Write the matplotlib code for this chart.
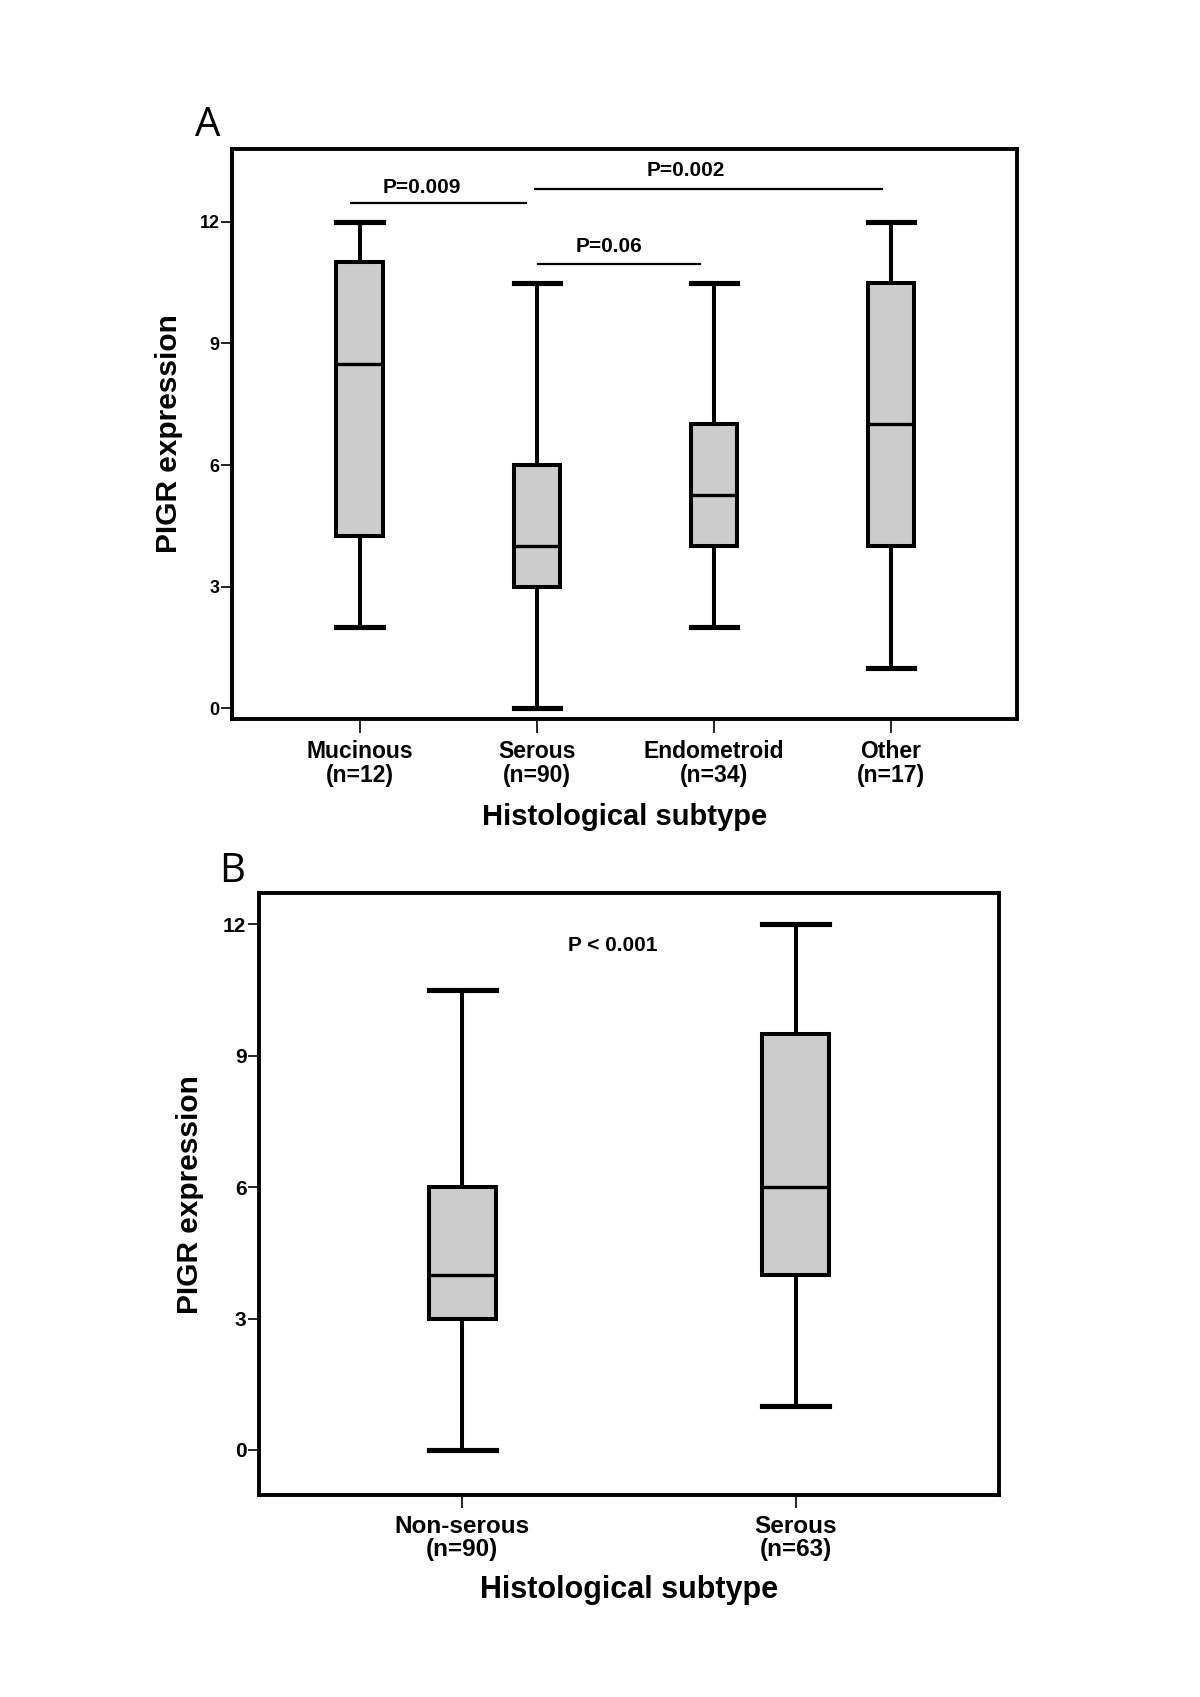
import matplotlib
matplotlib.use("Agg")
import matplotlib.pyplot as plt

# Panel A - four histological subtypes
a_groups = ["Mucinous", "Serous", "Endometroid", "Other"]
a_n = [12, 90, 34, 17]
a_low = [2, 0, 2, 1]
a_q1 = [4.25, 3, 4, 4]
a_med = [8.5, 4, 5.25, 7]
a_q3 = [11, 6, 7, 10.5]
a_high = [12, 10.5, 10.5, 12]

# significance brackets in panel A
sig_labels = ["P=0.009", "P=0.002", "P=0.06"]
sig_x0 = [-0.05, 0.99, 1.01]
sig_x1 = [0.94, 2.95, 1.92]
sig_y = [12.47, 12.81, 10.96]
sig_text_x = [0.35, 1.84, 1.41]
sig_text_y = [12.86, 13.26, 11.39]

# Panel B - serous vs non-serous
b_groups = ["Non-serous", "Serous"]
b_n = [90, 63]
b_low = [0, 1]
b_q1 = [3, 4]
b_med = [4, 6]
b_q3 = [6, 9.5]
b_high = [10.5, 12]
b_pvalue = "P < 0.001"

y_ticks = [0, 3, 6, 9, 12]

FONT = ["Liberation Sans", "DejaVu Sans"]
NARROW = ["Liberation Sans Narrow", "Liberation Sans", "DejaVu Sans"]
plt.rcParams["font.family"] = FONT


def make_stats(groups, low, q1, med, q3, high):
    stats = []
    for i, g in enumerate(groups):
        stats.append({"label": g, "whislo": low[i], "q1": q1[i], "med": med[i],
                      "q3": q3[i], "whishi": high[i]})
    return stats


def draw_boxes(ax, stats, width, lw):
    pos = list(range(len(stats)))
    ax.bxp(stats, positions=pos, widths=width, capwidths=width, showfliers=False,
           patch_artist=True,
           boxprops=dict(facecolor="#cccccc", edgecolor="black", linewidth=lw),
           whiskerprops=dict(color="black", linewidth=lw),
           capprops=dict(color="black", linewidth=lw + 0.8),
           medianprops=dict(color="black", linewidth=lw - 0.5))
    for s in ax.spines.values():
        s.set_linewidth(2.8)
    return pos


fig = plt.figure(figsize=(12, 16.97), dpi=100)

# ---- panel A ----
axA = fig.add_axes([0.1933, 0.5763, 0.654, 0.3359])
pos = draw_boxes(axA, make_stats(a_groups, a_low, a_q1, a_med, a_q3, a_high), 0.26, 2.9)
axA.set_xlim(-0.72, 3.71)
axA.set_ylim(-0.27, 13.8)
axA.set_yticks(y_ticks)
axA.set_yticklabels([str(t) for t in y_ticks], fontsize=13, fontweight="bold")
axA.set_xticks(pos)
axA.set_xticklabels([f"{g}\n(n={n})" for g, n in zip(a_groups, a_n)],
                    fontsize=16.5, fontweight="bold", linespacing=1.05)
axA.tick_params(axis="x", length=10, width=1.2, pad=5)
axA.tick_params(axis="y", length=8, width=1.2, pad=1)
axA.set_xlabel("Histological subtype", fontsize=21, fontweight="bold", labelpad=12)
axA.set_ylabel("PIGR expression", fontsize=21.5, fontweight="bold", labelpad=12)

for i in range(len(sig_labels)):
    axA.plot([sig_x0[i], sig_x1[i]], [sig_y[i], sig_y[i]], color="black", linewidth=1.6)
    axA.text(sig_text_x[i], sig_text_y[i], sig_labels[i], ha="center", va="center",
             fontsize=15, fontweight="bold")

# ---- panel B ----
axB = fig.add_axes([0.2158, 0.1190, 0.6167, 0.3547])
pos = draw_boxes(axB, make_stats(b_groups, b_low, b_q1, b_med, b_q3, b_high), 0.2, 2.9)
axB.set_xlim(-0.61, 1.61)
axB.set_ylim(-1.03, 12.71)
axB.set_yticks(y_ticks)
axB.set_yticklabels([str(t) for t in y_ticks], fontsize=15, fontweight="bold", family=NARROW)
axB.set_xticks(pos)
axB.set_xticklabels([f"{g}\n(n={n})" for g, n in zip(b_groups, b_n)],
                    fontsize=17.5, fontweight="bold", linespacing=1.05)
axB.tick_params(axis="x", length=9, width=1.2, pad=5)
axB.tick_params(axis="y", length=8, width=1.2, pad=1)
axB.set_xlabel("Histological subtype", fontsize=22, fontweight="bold", labelpad=10)
axB.set_ylabel("PIGR expression", fontsize=21.5, fontweight="bold", labelpad=14)
axB.text(0.45, 11.52, b_pvalue, ha="center", va="center", fontsize=15, fontweight="bold")

fig.text(208 / 1200, 1 - 126 / 1697, "A", fontsize=29, family=["Open Sans", "DejaVu Sans"],
         ha="center", va="center")
fig.text(232 / 1200, 1 - 872 / 1697, "B", fontsize=29, family=["Open Sans", "DejaVu Sans"],
         ha="center", va="center")

fig.savefig("out.png", dpi=100, facecolor="white")
